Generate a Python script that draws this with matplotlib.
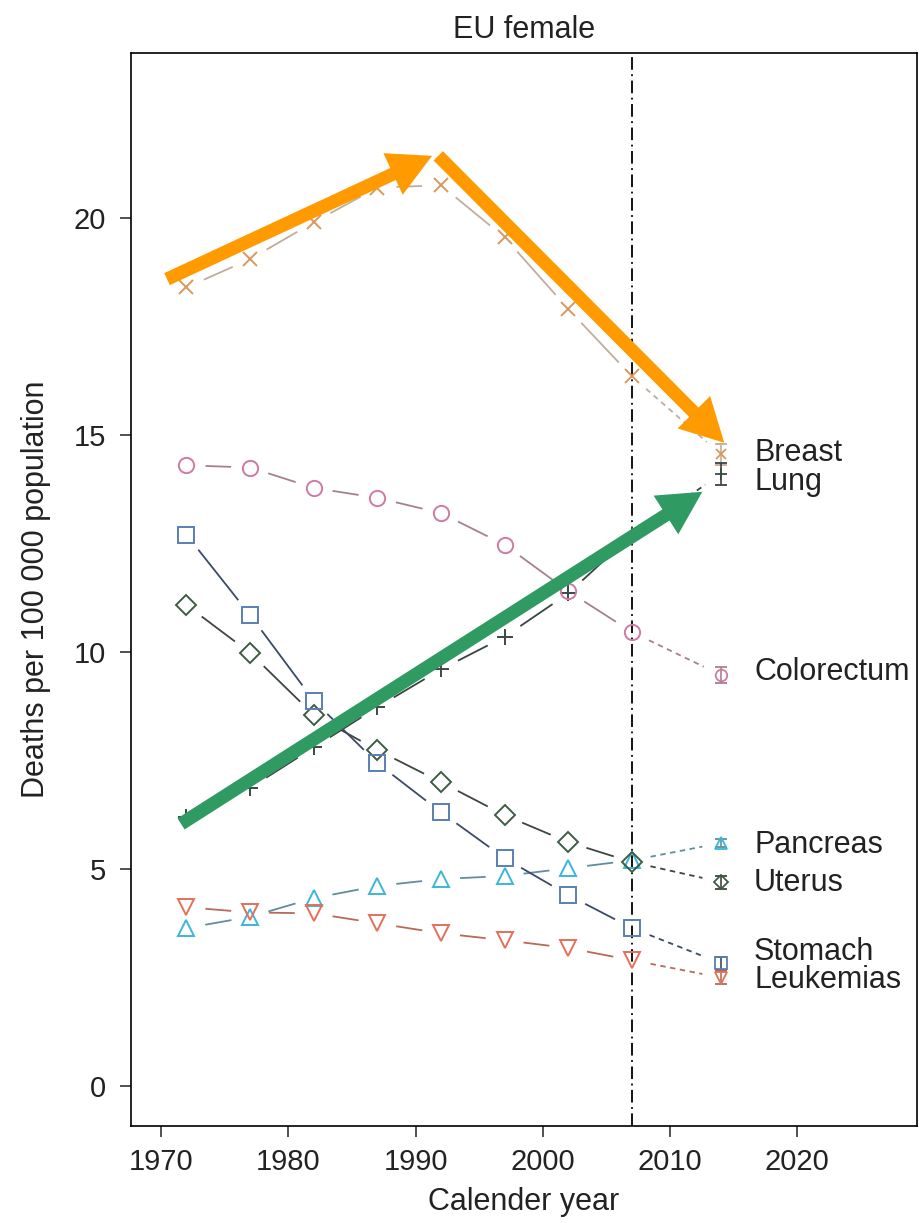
import numpy as np
import matplotlib
matplotlib.use('Agg')
import matplotlib.pyplot as plt
from matplotlib.patches import FancyArrowPatch

plt.rcParams['font.family'] = ['Liberation Sans', 'DejaVu Sans']

# observed years and the 2014 prediction
years = [1972, 1977, 1982, 1987, 1992, 1997, 2002, 2007]
pred_year = 2014

sites = ['Breast', 'Lung', 'Colorectum', 'Pancreas', 'Uterus', 'Stomach', 'Leukemias']

breast = [18.4, 19.05, 19.9, 20.7, 20.75, 19.55, 17.9, 16.35]
lung = [6.2, 6.87, 7.8, 8.73, 9.6, 10.35, 11.35, 12.7]
colorectum = [14.3, 14.25, 13.78, 13.55, 13.2, 12.47, 11.4, 10.46]
pancreas = [3.64, 3.9, 4.33, 4.61, 4.77, 4.84, 5.02, 5.2]
uterus = [11.08, 9.98, 8.55, 7.74, 7.0, 6.24, 5.62, 5.16]
stomach = [12.7, 10.85, 8.88, 7.44, 6.31, 5.25, 4.4, 3.64]
leukemias = [4.12, 4.0, 3.98, 3.75, 3.52, 3.36, 3.18, 2.9]

pred_vals = [14.55, 14.1, 9.47, 5.6, 4.7, 2.83, 2.5]
pred_err = [0.25, 0.25, 0.18, 0.1, 0.15, 0.15, 0.15]

observed = [breast, lung, colorectum, pancreas, uterus, stomach, leukemias]

# styling
markers = ['x', '+', 'o', '^', 'D', 's', 'v']
msizes = [10, 12, 11, 11, 10, 11, 11]
mcolors = ['#d8985e', '#3c4a42', '#cf7aa3', '#3cb6d8', '#3e5c44', '#5a7fb0', '#e2705a']
lcolors = ['#c2ad98', '#3c4440', '#a78090', '#5f8e9c', '#3e463f', '#3b4a68', '#b86a58']
label_y = [14.58, 13.92, 9.54, 5.55, 4.68, 3.09, 2.44]

fig = plt.figure(figsize=(9.2, 12.23), dpi=100)
ax = fig.add_axes([0.1424, 0.0793, 0.8543, 0.8774])
ax.set_xlim(1967.64, 2029.4)
ax.set_ylim(-0.92, 23.8)

gap = 19  # pixels left free around each marker


def gapped(x0, y0, x1, y1, **kw):
    p0 = ax.transData.transform((x0, y0))
    p1 = ax.transData.transform((x1, y1))
    d = p1 - p0
    L = np.hypot(*d)
    if L <= 2 * gap + 2:
        return
    a = ax.transData.inverted().transform(p0 + d * gap / L)
    b = ax.transData.inverted().transform(p1 - d * gap / L)
    ax.plot([a[0], b[0]], [a[1], b[1]], **kw)


for i, vals in enumerate(observed):
    for k in range(len(years) - 1):
        gapped(years[k], vals[k], years[k + 1], vals[k + 1],
               color=lcolors[i], lw=1.3, solid_capstyle='butt', zorder=2)
    gapped(years[-1], vals[-1], pred_year, pred_vals[i],
           color=lcolors[i], lw=1.3, ls=(0, (3, 2.5)), zorder=2)
    ax.plot(years, vals, ls='none', marker=markers[i], ms=msizes[i],
            mfc='none', mec=mcolors[i], mew=1.4, zorder=3)
    ax.errorbar([pred_year], [pred_vals[i]], yerr=[pred_err[i]], fmt=markers[i],
                ms=msizes[i] * 0.75, mfc='none', mec=mcolors[i], mew=1.3,
                ecolor=lcolors[i], elinewidth=1.2, capsize=4, capthick=1.2, zorder=3)
    ax.text(2016.6, label_y[i], sites[i], fontsize=22, color='#222222',
            va='center', ha='left')

ax.axvline(2007, color='black', lw=1.3, ls=(0, (7, 2.5, 1, 2.5)), zorder=1)

ax.set_xticks([1970, 1980, 1990, 2000, 2010, 2020])
ax.set_yticks([0, 5, 10, 15, 20])
ax.tick_params(direction='out', length=8, width=1.1, labelsize=21,
               colors='#222222', pad=8)
ax.tick_params(axis='y', pad=10)
for s in ax.spines.values():
    s.set_linewidth(1.2)
    s.set_color('black')

ax.set_title('EU female', fontsize=22, color='#222222', pad=11)
ax.set_xlabel('Calender year', fontsize=22, color='#222222', labelpad=8)
ax.set_ylabel('Deaths per 100 000 population', fontsize=22, color='#222222', labelpad=16)

# highlight arrows drawn on top of the chart
arrows = [((1970.47, 18.59), (1991.3, 21.43), '#ff9a00'),
          ((1991.78, 21.43), (2014.26, 14.82), '#ff9a00'),
          ((1971.57, 6.04), (2012.53, 13.69), '#2f9a62')]
for tail, tip, col in arrows:
    arr = FancyArrowPatch(tail, tip,
                          arrowstyle='simple,head_length=31,head_width=33,tail_width=9.5',
                          mutation_scale=1, color=col, lw=0, shrinkA=0, shrinkB=0,
                          zorder=10, clip_on=False)
    ax.add_patch(arr)

fig.savefig('out.png', dpi=100)
